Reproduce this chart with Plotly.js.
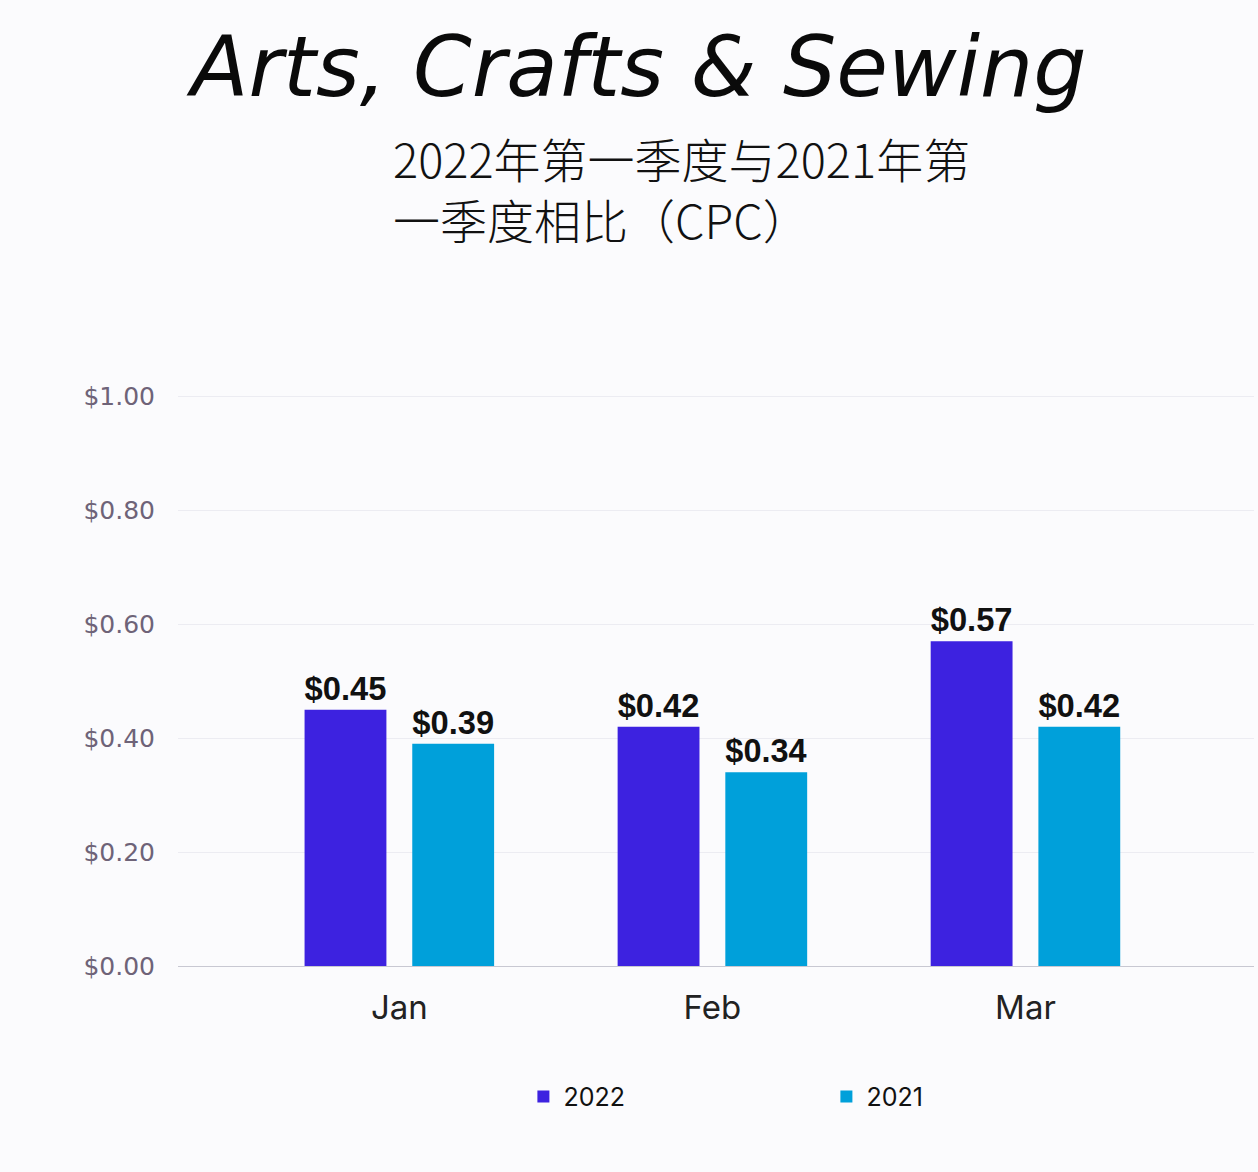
<!DOCTYPE html>
<html>
<head>
<meta charset="utf-8">
<script src="https://cdn.plot.ly/plotly-3.0.1.min.js"></script>
<style>
  html, body { margin: 0; padding: 0; background: #fbfbfd; }
  #chart { width: 1258px; height: 1172px; }
</style>
</head>
<body>
<div id="chart"></div>
<script>
var months = ['Jan', 'Feb', 'Mar'];
var cpc2022 = [0.45, 0.42, 0.57];
var cpc2021 = [0.39, 0.34, 0.42];
var tickVals = [0, 0.2, 0.4, 0.6, 0.8, 1.0];
var tickText = ['$0.00', '$0.20', '$0.40', '$0.60', '$0.80', '$1.00'];

function money(v) { return '$' + v.toFixed(2); }

var labelFont = {family: 'Liberation Sans, Arial, sans-serif', size: 33, color: '#111111', weight: 'bold'};

var data = [
    {
        x: months, y: cpc2022,
        name: '2022',
        type: 'bar',
        marker: {color: '#3d22e0'},
        text: cpc2022.map(money),
        textposition: 'outside',
        textfont: labelFont,
        cliponaxis: false
    },
    {
        x: months, y: cpc2021,
        name: '2021',
        type: 'bar',
        marker: {color: '#00a0da'},
        text: cpc2021.map(money),
        textposition: 'outside',
        textfont: labelFont,
        cliponaxis: false
    }
];

var layout = {
    width: 1258, height: 1172,
    paper_bgcolor: '#fbfbfd',
    plot_bgcolor: '#fbfbfd',
    margin: {l: 178, r: 4, t: 385, b: 206},
    barmode: 'group',
    bargap: 0.312,
    bargroupgap: 0.24,
    showlegend: true,
    legend: {
        orientation: 'h',
        x: 0.321, xanchor: 'left',
        y: -0.225, yanchor: 'middle',
        font: {family: 'Inter, Liberation Sans, sans-serif', size: 25, color: '#111111'},
        entrywidth: 258, entrywidthmode: 'pixels',
        itemsizing: 'constant',
        itemwidth: 30,
        bgcolor: 'rgba(0,0,0,0)'
    },
    xaxis: {
        range: [-0.707, 2.73],
        showgrid: false,
        showline: true,
        linecolor: '#c8c8d2',
        linewidth: 1,
        ticks: '',
        tickfont: {family: 'Inter, Liberation Sans, sans-serif', size: 33, color: '#222222'},
        ticklabelstandoff: 12
    },
    yaxis: {
        range: [0, 1.02],
        tickvals: tickVals,
        ticktext: tickText,
        showgrid: true,
        gridcolor: '#ececf2',
        zeroline: false,
        ticks: '',
        tickfont: {family: 'DejaVu Sans, sans-serif', size: 25, color: '#6e6378'},
        ticklabelstandoff: 22
    },
    annotations: [
        {
            text: 'Arts, Crafts &amp; Sewing',
            xref: 'paper', yref: 'paper',
            x: 0.4265, y: 1.0, yanchor: 'middle', xanchor: 'center',
            yshift: 318,
            showarrow: false,
            font: {family: 'Comic Sans MS, DejaVu Sans, sans-serif', size: 84, color: '#0a0a0a', style: 'italic'}
        },
        {
            text: '2022年第一季度与2021年第<br>一季度相比（CPC）',
            xref: 'paper', yref: 'paper',
            x: 0.198, y: 1.0, xanchor: 'left', yanchor: 'middle',
            yshift: 197,
            align: 'left',
            showarrow: false,
            font: {family: 'Noto Sans CJK SC, sans-serif', size: 47, color: '#111111', weight: 300}
        }
    ]
};

Plotly.newPlot('chart', data, layout, {displayModeBar: false, staticPlot: true});
</script>
</body>
</html>
